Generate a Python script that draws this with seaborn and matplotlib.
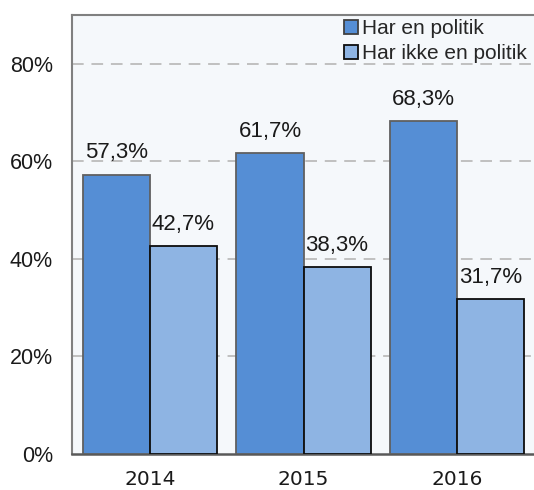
import matplotlib
matplotlib.use("Agg")
import matplotlib.pyplot as plt
import seaborn as sns
import pandas as pd
from matplotlib.ticker import FixedLocator, FuncFormatter

years = ["2014", "2015", "2016"]
series = ["Har en politik", "Har ikke en politik"]
har_en = [57.3, 61.7, 68.3]
har_ikke = [42.7, 38.3, 31.7]
y_ticks = [0, 20, 40, 60, 80]

df = pd.DataFrame({
    "year": years * 2,
    "series": [series[0]] * 3 + [series[1]] * 3,
    "value": har_en + har_ikke,
})

sns.set_theme(style="white")
plt.rcParams["font.family"] = ["Liberation Sans", "DejaVu Sans"]

fig = plt.figure(figsize=(5.34, 4.90), dpi=100)
left = 72 / 534
bottom = (490 - 454) / 490
top = (490 - 15) / 490
ax = fig.add_axes([left, bottom, 1 - left, top - bottom])
ax.set_facecolor("#F5F8FB")

sns.barplot(data=df, x="year", y="value", hue="series", ax=ax,
            palette=["#558ED5", "#8EB4E3"], width=0.873, saturation=1,
            edgecolor="#1a1a1a", linewidth=1.2, gap=0, zorder=3)

edge_cols = ["#606060", "#0d0d0d"]
for cont, ec in zip(ax.containers, edge_cols):
    for p in cont:
        p.set_edgecolor(ec)
        p.set_linewidth(1.3)
    ax.bar_label(cont, labels=[f"{v:.1f}%".replace(".", ",") for v in cont.datavalues],
                 padding=8, fontsize=16, color="#1a1a1a", family=["Liberation Sans"])

ax.set_ylim(0, 90)
ax.set_xlim(-0.507, -0.507 + (534 - 72) / 156.5)
ax.yaxis.set_major_locator(FixedLocator(y_ticks))
ax.yaxis.set_major_formatter(FuncFormatter(lambda v, p: f"{v:.0f}%"))
for yv in y_ticks[1:]:
    ax.axhline(yv, color="#C0C0C0", lw=1.4, ls=(0, (6, 4)), zorder=1)

ax.set_xlabel("")
ax.set_ylabel("")
ax.set_xticks([0, 1, 2])
ax.set_xticks([-0.5, 0.5, 1.5, 2.5], minor=True)
ax.tick_params(axis="x", which="major", direction="out", length=3.6, width=1.2,
               color="#808080", pad=8, labelsize=14.5, labelcolor="#1a1a1a")
ax.tick_params(axis="x", which="minor", direction="inout", length=10, width=1.2,
               color="#808080")
ax.tick_params(axis="y", which="major", direction="out", length=3.6, width=1.2,
               color="#808080", pad=10, labelsize=15.5, labelcolor="#1a1a1a")
for lab in ax.get_xticklabels():
    lab.set_family(["DejaVu Sans"])

for s in ["left", "top"]:
    ax.spines[s].set_color("#808080")
    ax.spines[s].set_linewidth(1.5)
ax.spines["bottom"].set_color("#595959")
ax.spines["bottom"].set_linewidth(1.8)
ax.spines["right"].set_visible(False)

handles, labels = ax.get_legend_handles_labels()
for h, ec in zip(handles, ["#404040", "#0d0d0d"]):
    h.set_edgecolor(ec)
    h.set_linewidth(1.3)
ax.legend(handles, labels, loc="upper left", bbox_to_anchor=(344 / 534, 1 - 19 / 490),
          bbox_transform=fig.transFigure, frameon=False, fontsize=15,
          handlelength=0.65, handleheight=0.65, handletextpad=0.2,
          labelspacing=0.3, borderpad=0, borderaxespad=0)

fig.savefig("out.png", dpi=100)
